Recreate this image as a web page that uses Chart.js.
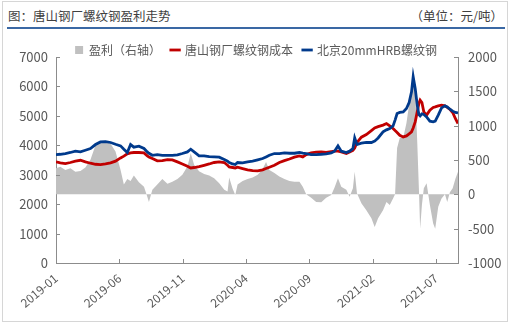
<!DOCTYPE html>
<html><head><meta charset="utf-8">
<script src="https://cdn.jsdelivr.net/npm/chart.js@4.4.1/dist/chart.umd.min.js"></script>
<style>
html,body{margin:0;padding:0;background:#fff;}
#wrap{position:relative;width:512px;height:326px;overflow:hidden;font-family:"Noto Sans CJK SC",sans-serif;}
#frame{position:absolute;left:2px;top:1px;width:506px;height:321px;border:1px solid #d6d6d6;box-sizing:border-box;}
#t1{position:absolute;left:8px;top:7px;font-size:12.5px;color:#404040;line-height:18px;white-space:nowrap;}
#t2{position:absolute;right:9px;top:7px;font-size:12.5px;color:#404040;line-height:18px;white-space:nowrap;}
#rule{position:absolute;left:7px;top:27px;width:498px;height:1.5px;background:#3a68a4;}
canvas{position:absolute;left:0;top:0;}
</style></head>
<body>
<div id="wrap">
<div id="frame"></div>
<div id="t1">图：唐山钢厂螺纹钢盈利走势</div>
<div id="t2">（单位：元/吨）</div>
<div id="rule"></div>
<canvas id="c" width="512" height="326"></canvas>
</div>
<script>
// x positions: months since 2019-01
const monthPos = [0, 0.34, 0.74, 1.14, 1.53, 1.93, 2.32, 2.72, 3.12, 3.51,
 3.91, 4.31, 4.70, 5.10, 5.36, 5.63, 5.89, 6.15, 6.55, 6.95,
 7.21, 7.34, 7.61, 8.00, 8.40, 8.80, 9.19, 9.59, 9.98, 10.38,
 10.64, 10.91, 11.30, 11.70, 12.10, 12.49, 12.89, 13.29, 13.55, 13.68,
 13.95, 14.16, 14.34, 14.74, 15.13, 15.53, 15.93, 16.32, 16.59, 16.85,
 17.25, 17.64, 18.04, 18.44, 18.83, 19.23, 19.49, 19.76, 20.15, 20.55,
 20.95, 21.34, 21.74, 22.00, 22.27, 22.53, 22.93, 23.19, 23.45, 23.59,
 23.77, 24.12, 24.51, 24.91, 25.17, 25.44, 25.83, 26.10, 26.36, 26.62,
 26.78, 26.94, 27.15, 27.42, 27.68, 27.89, 28.08, 28.21, 28.37, 28.53,
 28.66, 28.76, 28.90, 29.05, 29.27, 29.53, 29.79, 29.95, 30.19, 30.45,
 30.72, 30.90, 31.11, 31.33, 31.54, 31.75];

// 北京20mmHRB螺纹钢 (left axis)
const beijingHRB = [3685, 3695, 3720, 3755, 3800, 3775, 3830, 3890, 4025, 4115,
 4125, 4095, 4035, 3980, 3865, 3755, 4025, 3935, 3970, 3890,
 3775, 3730, 3660, 3685, 3660, 3660, 3660, 3675, 3720, 3775,
 3865, 3775, 3640, 3640, 3615, 3605, 3595, 3515, 3460, 3415,
 3365, 3345, 3415, 3400, 3435, 3460, 3505, 3550, 3605, 3660,
 3720, 3720, 3740, 3730, 3730, 3755, 3730, 3720, 3685, 3685,
 3695, 3710, 3740, 3800, 3980, 3800, 3755, 3800, 3890, 4250,
 4025, 4070, 4095, 4095, 4140, 4250, 4455, 4525, 4570, 4660,
 4855, 5080, 5115, 5135, 5250, 5455, 5815, 6330, 5930, 5365,
 5045, 5000, 5070, 5045, 4965, 4820, 4795, 4820, 5025, 5270,
 5340, 5305, 5225, 5160, 5115, 5100];

// 唐山钢厂螺纹钢成本 (left axis)
const tangshanCost = [3435, 3400, 3380, 3415, 3460, 3490, 3435, 3390, 3355, 3345,
 3365, 3400, 3460, 3570, 3630, 3710, 3740, 3755, 3755, 3740,
 3640, 3605, 3550, 3470, 3480, 3515, 3505, 3435, 3365, 3290,
 3230, 3245, 3275, 3320, 3365, 3415, 3435, 3415, 3320, 3265,
 3245, 3230, 3255, 3210, 3165, 3140, 3130, 3165, 3210, 3255,
 3320, 3415, 3480, 3535, 3595, 3640, 3605, 3685, 3740, 3765,
 3775, 3755, 3785, 3800, 3800, 3775, 3720, 3775, 3830, 3910,
 4095, 4275, 4365, 4500, 4590, 4635, 4685, 4740, 4660, 4570,
 4500, 4435, 4340, 4285, 4320, 4390, 4455, 4590, 4795, 5135,
 5420, 5535, 5455, 5135, 5025, 5195, 5285, 5305, 5340, 5365,
 5340, 5285, 5225, 5115, 4910, 4740];

// 盈利 (right axis)
const profit = [380, 400, 355, 380, 330, 340, 390, 505, 715, 765,
 765, 735, 625, 355, 145, 225, 195, 275, 175, 110,
 -35, -110, 65, 145, 225, 155, 185, 225, 285, 405,
 600, 430, 335, 295, 275, 235, 160, 65, 40, 245,
 80, -10, 145, 195, 225, 245, 285, 370, 470, 355,
 310, 260, 225, 195, 185, 185, 110, 0, -50, -110,
 -115, -50, -10, 100, 235, 110, 65, -35, 90, 330,
 15, -130, -230, -350, -475, -350, -230, -110, -155, -60,
 0, 675, 820, 820, 1040, 1310, 1505, 1820, 1505, 770,
 90, -500, -155, 90, 160, -155, -425, -500, -180, -60,
 0, -110, 30, 90, 225, 330];

const seriesNames = ['盈利（右轴）', '唐山钢厂螺纹钢成本', '北京20mmHRB螺纹钢'];
const xTickMonths = [0, 5, 10, 15, 20, 25, 30];
const xEnd = 31.75;

const pts = arr => arr.map((v, i) => ({x: monthPos[i], y: v}));
const FONT = '"Noto Sans CJK SC", sans-serif';
const AXIS = '#8c8c8c';

const innerTicks = {
  id: 'innerTicks',
  afterDatasetsDraw(chart) {
    const ctx = chart.ctx, a = chart.chartArea;
    ctx.save();
    ctx.strokeStyle = AXIS; ctx.lineWidth = 1;
    ctx.beginPath();
    const xs = chart.scales.x;
    xs.ticks.forEach(t => { const p = Math.round(xs.getPixelForValue(t.value)) + 0.5; ctx.moveTo(p, a.bottom); ctx.lineTo(p, a.bottom - 4); });
    const yl = chart.scales.y;
    yl.ticks.forEach(t => { const p = Math.round(yl.getPixelForValue(t.value)) + 0.5; ctx.moveTo(a.left, p); ctx.lineTo(a.left + 4, p); });
    const yr = chart.scales.y2;
    yr.ticks.forEach(t => { const p = Math.round(yr.getPixelForValue(t.value)) + 0.5; ctx.moveTo(a.right, p); ctx.lineTo(a.right - 4, p); });
    ctx.stroke();
    ctx.restore();
  }
};

new Chart(document.getElementById('c'), {
  type: 'line',
  data: {
    datasets: [
      { label: seriesNames[0], data: pts(profit), yAxisID: 'y2', fill: 'origin',
        backgroundColor: '#c0c0c0', borderColor: '#c0c0c0', borderWidth: 0,
        pointRadius: 0, pointStyle: 'rect', order: 3 },
      { label: seriesNames[1], data: pts(tangshanCost), yAxisID: 'y', fill: false,
        borderColor: '#c00000', backgroundColor: '#c00000', borderWidth: 2.8,
        pointRadius: 0, pointStyle: 'line', order: 2 },
      { label: seriesNames[2], data: pts(beijingHRB), yAxisID: 'y', fill: false,
        borderColor: '#003a8c', backgroundColor: '#003a8c', borderWidth: 2.8,
        pointRadius: 0, pointStyle: 'line', order: 1 }
    ]
  },
  options: {
    responsive: false,
    animation: false,
    layout: { padding: { top: 34, left: 0, right: 0, bottom: 0 } },
    elements: { line: { tension: 0 } },
    plugins: {
      tooltip: { enabled: false },
      legend: {
        position: 'top',
        maxHeight: 23,
        labels: {
          usePointStyle: true, boxWidth: 8, boxHeight: 8, padding: 10,
          color: '#595959', font: { family: FONT, size: 12 },
          sort: (a, b) => a.datasetIndex - b.datasetIndex
        }
      }
    },
    scales: {
      x: {
        type: 'linear', min: 0, max: xEnd,
        afterBuildTicks: s => { s.ticks = xTickMonths.map(v => ({value: v})); },
        afterFit: s => { s.height = 63; },
        grid: { display: false, drawTicks: false },
        border: { display: true, color: AXIS, width: 1 },
        ticks: {
          minRotation: 40, maxRotation: 40, padding: 8, autoSkip: false,
          color: '#595959', font: { family: FONT, size: 12 },
          callback: v => { const y = 2019 + Math.floor(v / 12); const m = (v % 12) + 1; return y + '-' + String(m).padStart(2, '0'); }
        }
      },
      y: {
        position: 'left', min: 0, max: 7000,
        afterFit: s => { s.width = 56; },
        grid: { display: false, drawTicks: false },
        border: { display: true, color: AXIS, width: 1 },
        ticks: { stepSize: 1000, padding: 8, color: '#595959', font: { family: FONT, size: 13 },
          callback: v => String(v) }
      },
      y2: {
        position: 'right', min: -1000, max: 2000,
        afterFit: s => { s.width = 54; },
        grid: { display: false, drawTicks: false },
        border: { display: true, color: AXIS, width: 1 },
        ticks: { stepSize: 500, padding: 10, color: '#595959', font: { family: FONT, size: 13 },
          callback: v => String(v) }
      }
    }
  },
  plugins: [innerTicks]
});
</script>
</body></html>
